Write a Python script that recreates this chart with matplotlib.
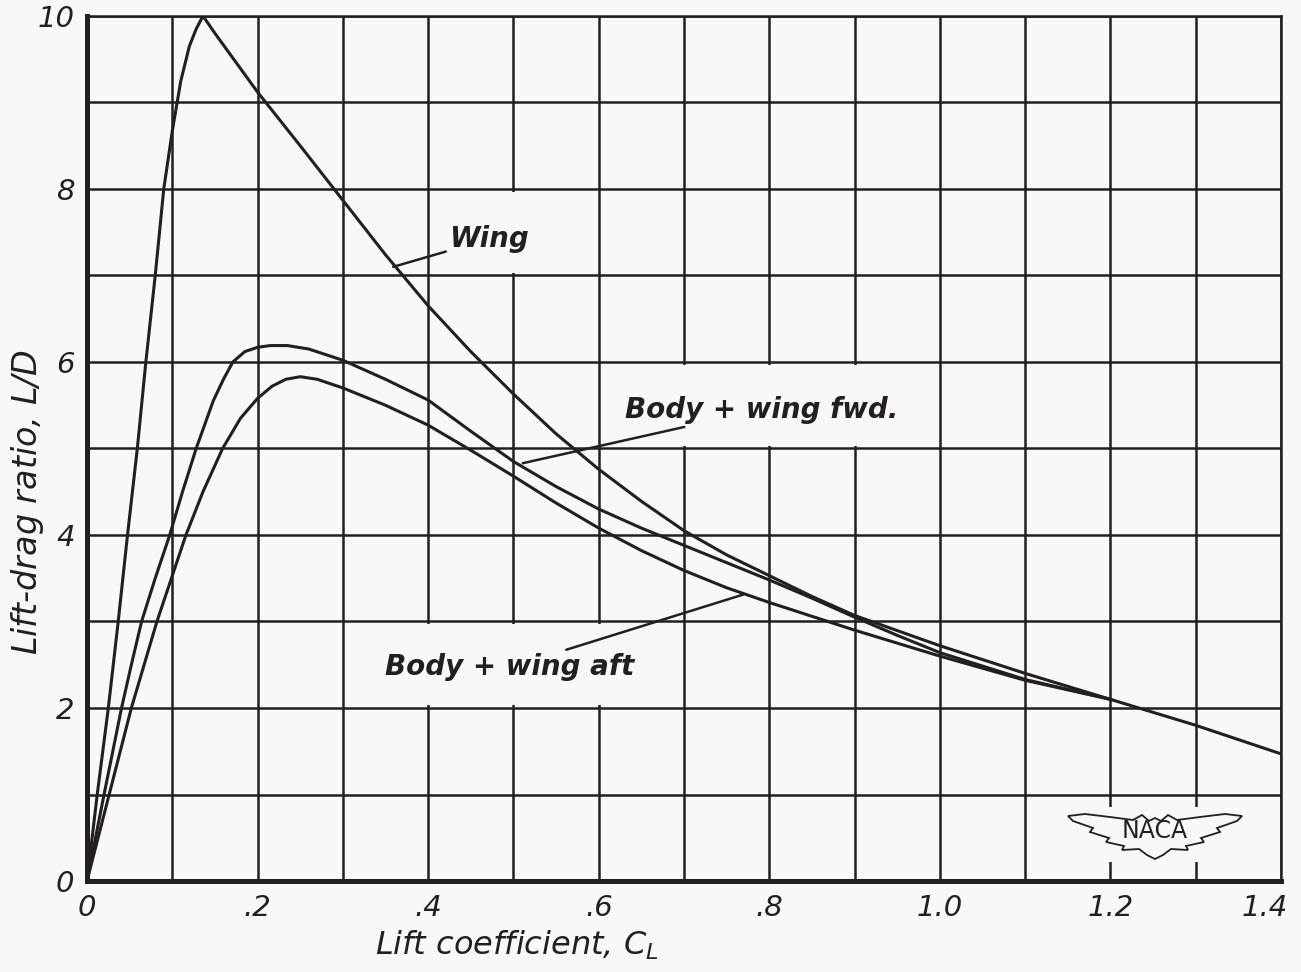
import matplotlib
matplotlib.use('Agg')
import matplotlib.pyplot as plt
from matplotlib.patches import Rectangle, Polygon
from matplotlib.transforms import ScaledTranslation

# L/D vs CL
wing_cl = [0.0, 0.012, 0.025, 0.0366, 0.0475, 0.059, 0.069, 0.080, 0.090, 0.100, 0.110, 0.120, 0.128, 0.136,
           0.15, 0.2, 0.25, 0.3, 0.35, 0.4, 0.45, 0.5, 0.55, 0.6, 0.65, 0.7, 0.75, 0.8, 0.85, 0.9,
           1.0, 1.1, 1.2, 1.3, 1.4]
wing_ld = [0.0, 1.0, 2.0, 3.0, 4.0, 5.0, 6.0, 7.0, 8.0, 8.67, 9.25, 9.65, 9.85, 10.0,
           9.8, 9.12, 8.5, 7.87, 7.24, 6.65, 6.12, 5.63, 5.17, 4.76, 4.39, 4.05, 3.77, 3.53, 3.29, 3.07,
           2.72, 2.4, 2.1, 1.8, 1.47]

fwd_cl = [0.0, 0.02, 0.0405, 0.052, 0.064, 0.080, 0.097, 0.112, 0.128, 0.148, 0.16, 0.171, 0.185,
          0.2, 0.215, 0.235, 0.26, 0.3, 0.35, 0.4, 0.45, 0.5, 0.55, 0.6, 0.65, 0.7, 0.75, 0.8,
          0.85, 0.9, 0.95, 1.0, 1.1, 1.2]
fwd_ld = [0.0, 1.0, 2.0, 2.5, 3.0, 3.5, 4.0, 4.5, 5.0, 5.55, 5.8, 6.0, 6.12,
          6.17, 6.19, 6.19, 6.15, 6.02, 5.8, 5.56, 5.2, 4.85, 4.56, 4.3, 4.08, 3.88, 3.68, 3.48,
          3.27, 3.05, 2.84, 2.64, 2.33, 2.1]

aft_cl = [0.0, 0.026, 0.052, 0.067, 0.082, 0.099, 0.116, 0.136, 0.159, 0.18, 0.2, 0.217, 0.233,
          0.25, 0.27, 0.3, 0.35, 0.4, 0.45, 0.5, 0.55, 0.6, 0.65, 0.7, 0.75, 0.8,
          0.9, 1.0, 1.1, 1.2]
aft_ld = [0.0, 1.0, 2.0, 2.5, 3.0, 3.5, 4.0, 4.5, 5.0, 5.35, 5.58, 5.72, 5.8,
          5.83, 5.8, 5.7, 5.5, 5.27, 4.98, 4.68, 4.37, 4.08, 3.82, 3.59, 3.39, 3.22,
          2.9, 2.6, 2.32, 2.1]

x_ticks = [0.0, 0.1, 0.2, 0.3, 0.4, 0.5, 0.6, 0.7, 0.8, 0.9, 1.0, 1.1, 1.2, 1.3, 1.4]
x_labels = ['0', '', '.2', '', '.4', '', '.6', '', '.8', '', '1.0', '', '1.2', '', '1.4']
y_ticks = [0, 1, 2, 3, 4, 5, 6, 7, 8, 9, 10]
y_labels = ['0', '', '2', '', '4', '', '6', '', '8', '', '10']

ink = '#231f20'
paper = '#f8f8f6'

plt.rcParams['font.family'] = ['DejaVu Sans']
plt.rcParams['font.style'] = 'italic'
plt.rcParams['mathtext.fontset'] = 'dejavusans'

fig = plt.figure(figsize=(13.01, 9.72), dpi=100, facecolor=paper)
ax = fig.add_axes([87/1301, 1-881/972, (1281-87)/1301, (881-16)/972])
ax.set_facecolor(paper)

ax.set_xlim(0, 1.4)
ax.set_ylim(0, 10)
ax.set_xticks(x_ticks)
ax.set_xticklabels(x_labels)
ax.set_yticks(y_ticks)
ax.set_yticklabels(y_labels)
ax.tick_params(length=0, labelsize=21, colors=ink)
ax.tick_params(axis='x', pad=9)
ax.tick_params(axis='y', pad=9)
ax.set_axisbelow(True)
ax.grid(True, color=ink, linewidth=1.8)

# last x label sits a bit inside, as on the original sheet
last = ax.get_xticklabels()[-1]
last.set_transform(last.get_transform() + ScaledTranslation(-12/72, 0, fig.dpi_scale_trans))

for s in ['left', 'bottom']:
    ax.spines[s].set_linewidth(3.6)
for s in ['top', 'right']:
    ax.spines[s].set_linewidth(1.8)
for s in ax.spines.values():
    s.set_color(ink)

# blank cells behind the curve labels (grid is broken there)
for x0, y0, w, h in [(0.45, 7.03, 0.1, 0.94), (0.65, 5.03, 0.3, 0.94),
                     (0.35, 2.03, 0.3, 0.94), (1.105, 0.22, 0.29, 0.63)]:
    ax.add_patch(Rectangle((x0, y0), w, h, facecolor=paper, edgecolor='none', zorder=1))

ax.plot(wing_cl, wing_ld, color=ink, lw=2.2, zorder=2, solid_joinstyle='round')
ax.plot(fwd_cl, fwd_ld, color=ink, lw=2.2, zorder=2, solid_joinstyle='round')
ax.plot(aft_cl, aft_ld, color=ink, lw=2.2, zorder=2, solid_joinstyle='round')

lab = dict(fontsize=20, fontweight='bold', color=ink, zorder=3)
ax.annotate('Wing', xy=(0.359, 7.1), xytext=(0.424, 7.42), ha='left', va='center',
            arrowprops=dict(arrowstyle='-', color=ink, lw=1.8, shrinkA=0, shrinkB=0), **lab)
ax.annotate('Body + wing fwd.', xy=(0.511, 4.83), xytext=(0.631, 5.45), ha='left', va='center',
            arrowprops=dict(arrowstyle='-', color=ink, lw=1.8, shrinkA=2, shrinkB=0), **lab)
ax.annotate('Body + wing aft', xy=(0.769, 3.31), xytext=(0.642, 2.47), ha='right', va='center',
            arrowprops=dict(arrowstyle='-', color=ink, lw=1.8, shrinkA=2, shrinkB=0), **lab)

ax.set_xlabel('Lift coefficient, $C_L$', fontsize=23, color=ink, va='center', ha='center')
ax.xaxis.set_label_coords(0.36, -0.074)
ax.set_ylabel('Lift-drag ratio, $L/D$', fontsize=24, color=ink, va='center', ha='center')
ax.yaxis.set_label_coords(-0.05, 0.438)

# NACA wings emblem
cx, cy = 1155, 836
top = [(-87, -20), (-70, -22), (-45, -19), (-22, -16), (-13, -21), (-6, -15), (0, -18),
       (6, -15), (13, -21), (22, -16), (45, -19), (70, -22), (87, -20)]
bot = [(82, -15), (62, -8), (65, -4), (46, 2), (49, 6), (31, 10), (33, 14), (16, 13),
       (8, 19), (0, 23), (-8, 19), (-16, 13), (-33, 14), (-31, 10), (-49, 6), (-46, 2),
       (-65, -4), (-62, -8), (-82, -15)]
pts = [((cx + dx) / 1301, 1 - (cy + dy) / 972) for dx, dy in top + bot]
ax.add_patch(Polygon(pts, closed=True, facecolor=paper, edgecolor=ink, lw=1.3,
                     transform=fig.transFigure, zorder=3))
ax.text(cx / 1301, 1 - 831 / 972, 'NACA', transform=fig.transFigure, fontsize=17,
        fontstyle='normal', color=ink, ha='center', va='center', zorder=4)

fig.savefig('out.png', dpi=100, facecolor=paper)
